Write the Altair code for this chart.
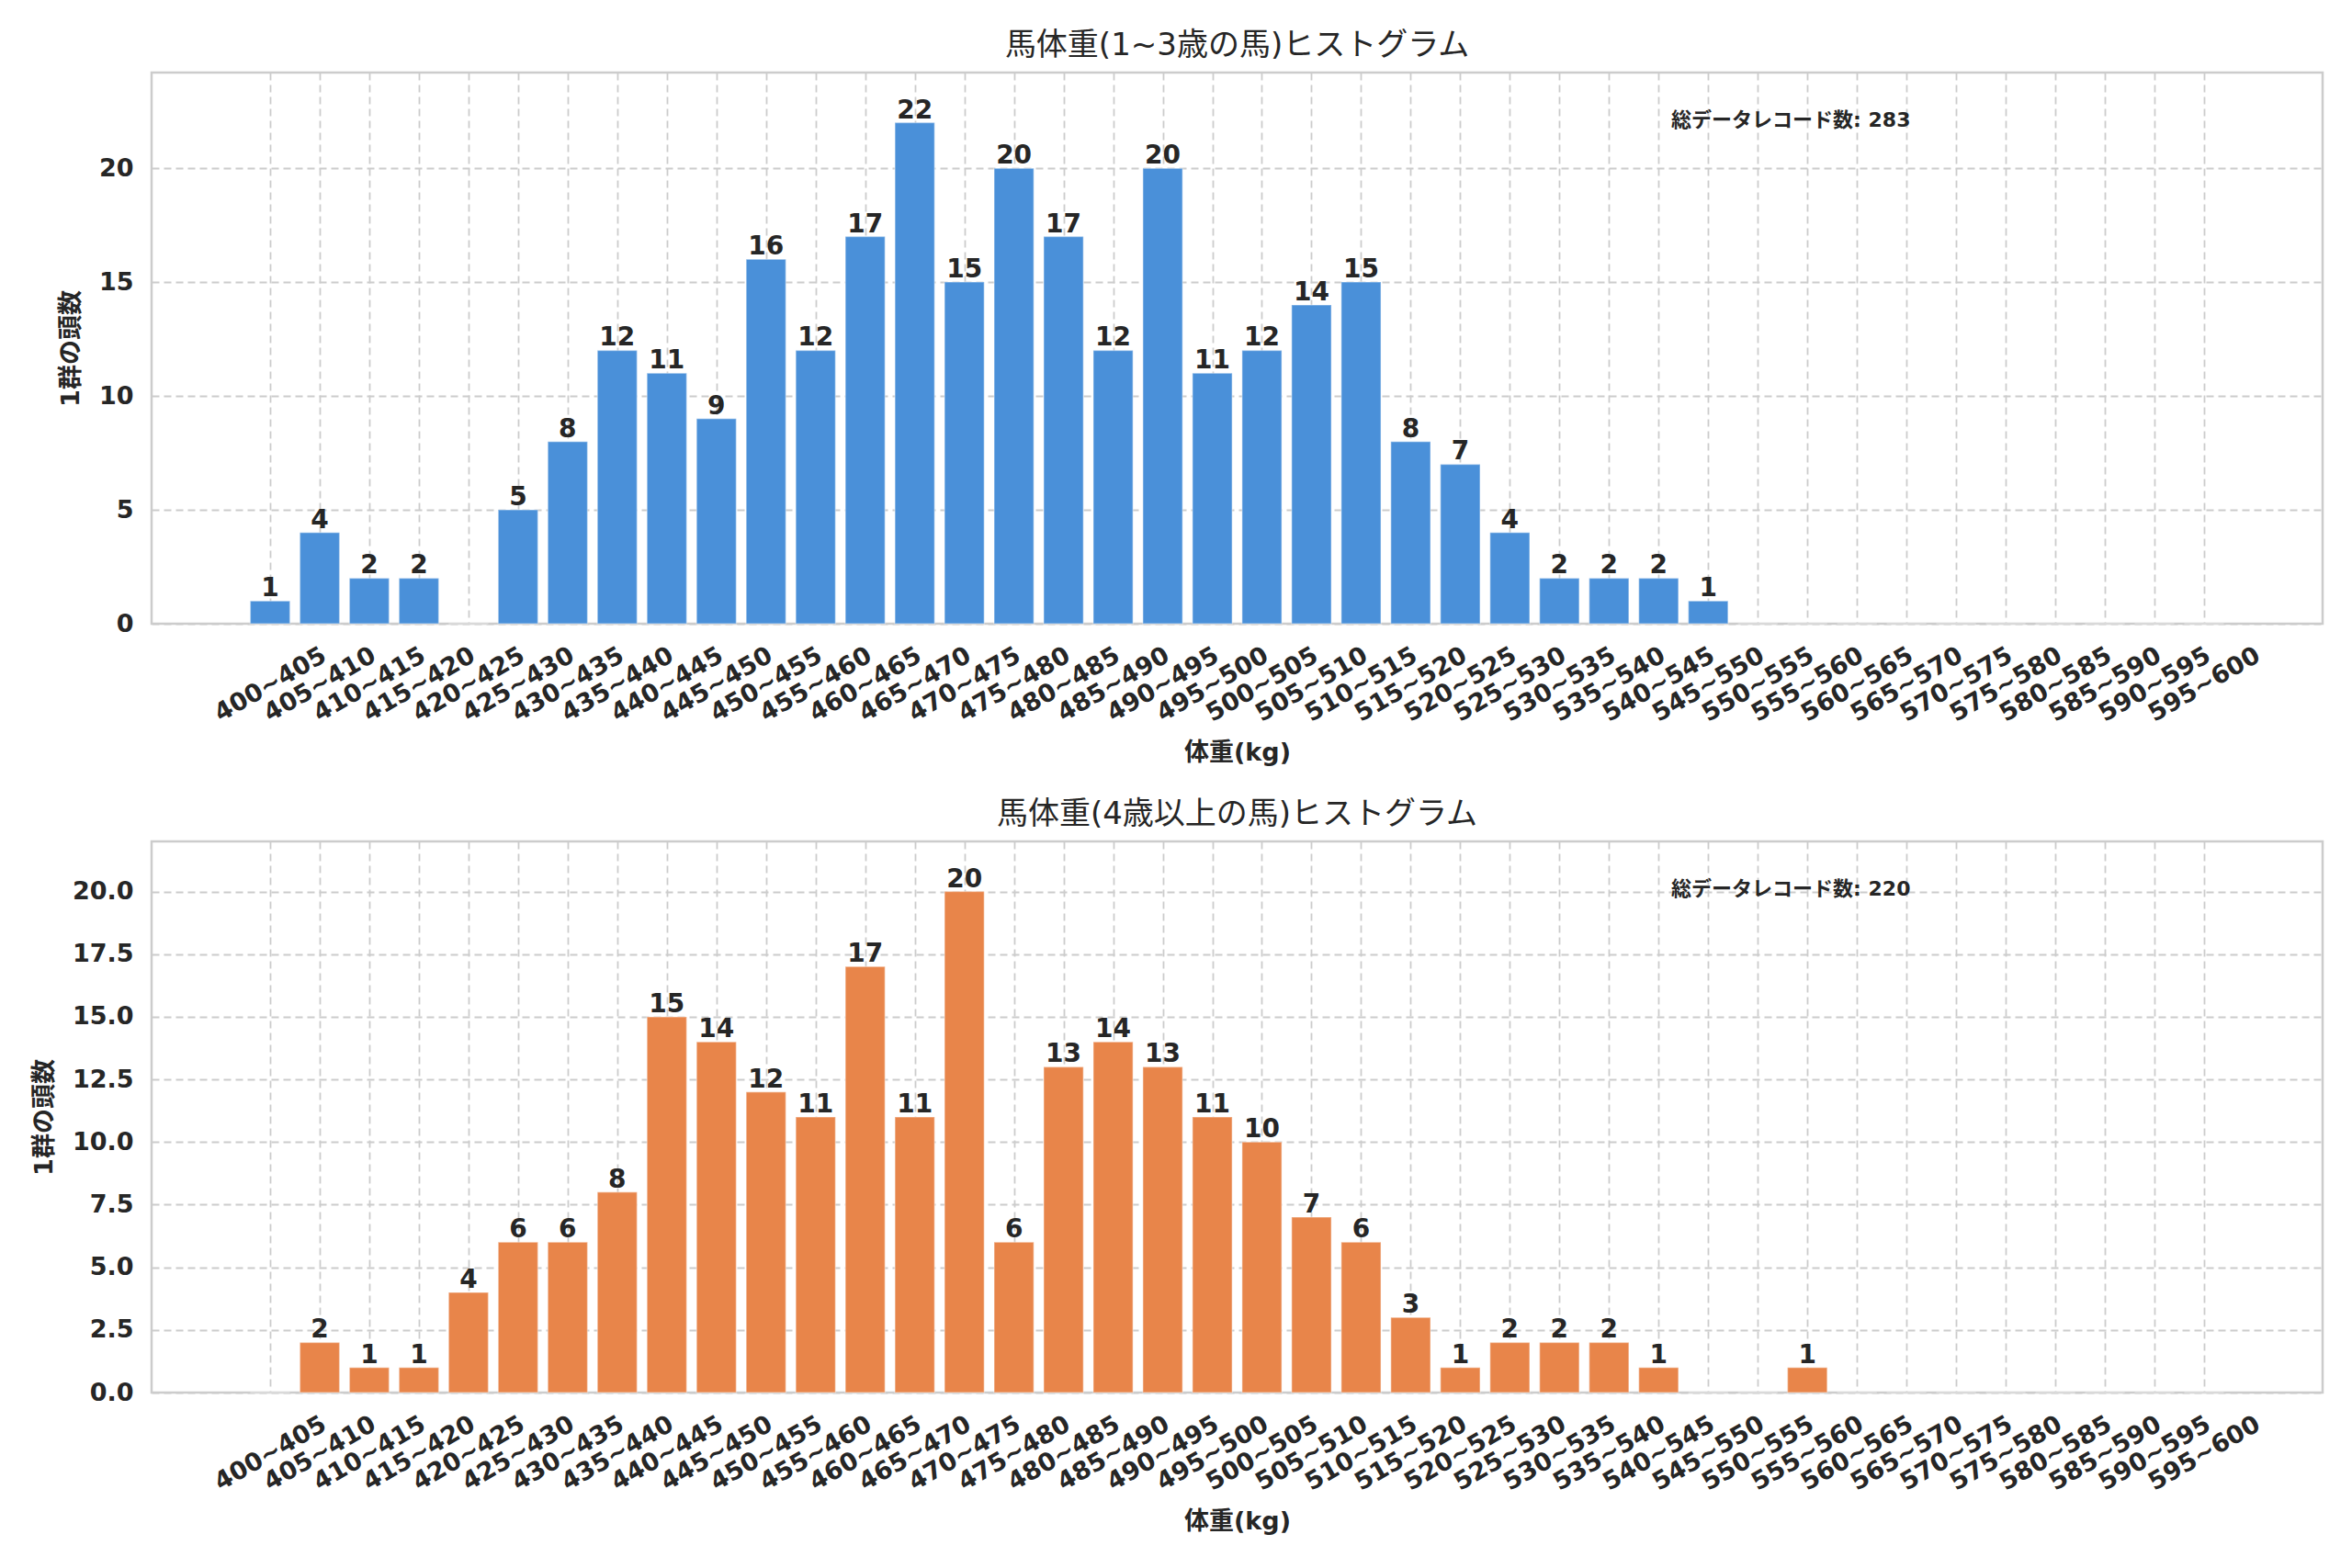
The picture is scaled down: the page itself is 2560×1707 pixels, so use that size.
import json
import altair as alt
import pandas as pd

# ---- data ----
bins = ["400~405", "405~410", "410~415", "415~420", "420~425", "425~430", "430~435", "435~440",
        "440~445", "445~450", "450~455", "455~460", "460~465", "465~470", "470~475", "475~480",
        "480~485", "485~490", "490~495", "495~500", "500~505", "505~510", "510~515", "515~520",
        "520~525", "525~530", "530~535", "535~540", "540~545", "545~550", "550~555", "555~560",
        "560~565", "565~570", "570~575", "575~580", "580~585", "585~590", "590~595", "595~600"]

young_counts = [1, 4, 2, 2, 0, 5, 8, 12, 11, 9, 16, 12, 17, 22, 15, 20, 17, 12, 20, 11,
                12, 14, 15, 8, 7, 4, 2, 2, 2, 1, 0, 0, 0, 0, 0, 0, 0, 0, 0, 0]
old_counts = [0, 2, 1, 1, 4, 6, 6, 8, 15, 14, 12, 11, 17, 11, 20, 6, 13, 14, 13, 11,
              10, 7, 6, 3, 1, 2, 2, 2, 1, 0, 0, 1, 0, 0, 0, 0, 0, 0, 0, 0]

young_title = "馬体重(1~3歳の馬)ヒストグラム"
old_title = "馬体重(4歳以上の馬)ヒストグラム"
x_title = "体重(kg)"
y_title = "1群の頭数"
note_label = "総データレコード数"
young_ticks = [0, 5, 10, 15, 20]
old_ticks = [0, 2.5, 5, 7.5, 10, 12.5, 15, 17.5, 20]

FONT = "DejaVu Sans, Noto Sans CJK JP, sans-serif"
TXT = "#262626"
W, H = 2363, 600
BAR_W = 0.8
n = len(bins)
margin = 0.05 * (n - 1 + BAR_W)
x_domain = [-BAR_W / 2 - margin, n - 1 + BAR_W / 2 + margin]
label_expr = json.dumps(bins) + "[datum.value]"


def panel(counts, color, title, ymax, ticks, fmt):
    df = pd.DataFrame({"bin": bins, "i": list(range(n)), "count": counts})
    total = sum(counts)
    xscale = alt.Scale(domain=x_domain, nice=False, zero=False)
    xaxis = alt.Axis(title=x_title, values=list(range(n)), labelExpr=label_expr,
                     labelAngle=330, labelAlign="center", labelBaseline="middle",
                     labelPadding=66, ticks=False, domain=False, grid=True,
                     titlePadding=16, labelOverlap=False, labelFlush=False)
    y = alt.Y("count:Q", scale=alt.Scale(domain=[0, ymax], nice=False),
              axis=alt.Axis(title=y_title, values=ticks, format=fmt, ticks=False,
                            domain=False, labelPadding=20, titlePadding=16))
    base = alt.Chart(df).transform_calculate(
        x0=f"datum.i - {BAR_W / 2}", x1=f"datum.i + {BAR_W / 2}")
    bars = base.mark_bar(color=color, stroke="white", strokeOpacity=0.35,
                         strokeWidth=1.5).encode(
        x=alt.X("x0:Q", scale=xscale, axis=xaxis), x2="x1:Q", y=y, y2=alt.datum(0))
    labels = base.transform_filter("datum.count > 0").mark_text(
        baseline="bottom", dy=1, font=FONT, fontSize=28, fontWeight="bold", color=TXT
    ).encode(x=alt.X("i:Q", scale=xscale), y="count:Q", text="count:Q")
    note = alt.Chart(pd.DataFrame({"t": [f"{note_label}: {total}"]})).mark_text(
        align="left", baseline="middle", font=FONT, fontSize=22, fontWeight="bold", color=TXT
    ).encode(x=alt.value(W * 0.70), y=alt.value(52), text="t:N")
    return alt.layer(bars, labels, note).properties(
        width=W, height=H,
        title=alt.TitleParams(title, font=FONT, fontSize=34, fontWeight="normal",
                              color=TXT, offset=12))


top = panel(young_counts, "#4a90d9", young_title, 24.2, young_ticks, "d")
bottom = panel(old_counts, "#e8854a", old_title, 22.0, old_ticks, ".1f")

chart = alt.vconcat(top, bottom, spacing=34).properties(
    padding={"left": 25, "top": 23, "right": 10, "bottom": 10},
    background="white"
).configure_view(
    stroke="#cccccc", strokeWidth=2.5
).configure_axis(
    labelFont=FONT, labelFontSize=27, labelFontWeight="bold", labelColor=TXT,
    titleFont=FONT, titleFontSize=27, titleFontWeight="bold", titleColor=TXT,
    gridColor="#cccccc", gridDash=[8, 5], gridWidth=1.8, gridOpacity=1
)

chart.save("out.html", embed_options={"renderer": "svg", "actions": False})
